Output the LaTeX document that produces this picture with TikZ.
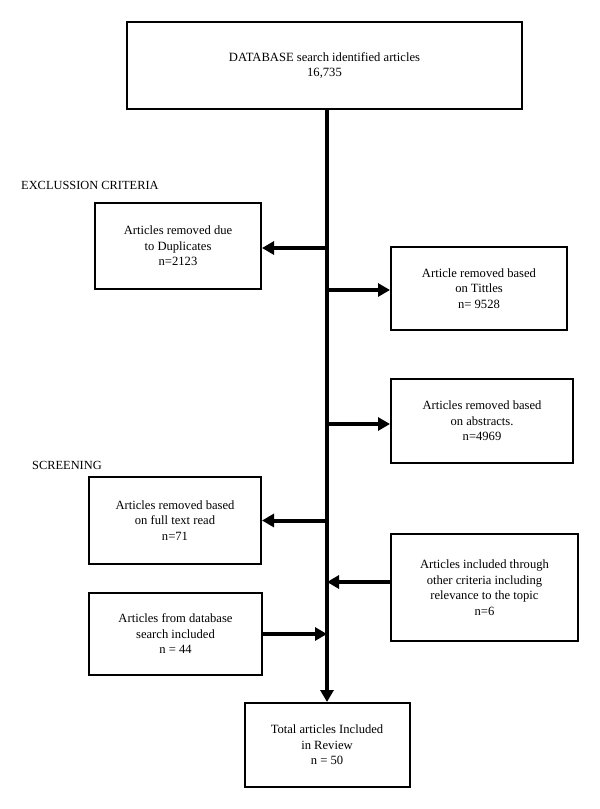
\documentclass[tikz,border=0pt]{standalone}
\usepackage{fontspec}
\setmainfont{Liberation Serif}
\usetikzlibrary{arrows.meta}
\begin{document}
\begin{tikzpicture}[x=1pt,y=-1pt,
  box/.style={draw,line width=2pt,align=center,inner sep=2pt,font=\fontsize{12.6}{15.5}\selectfont},
  arr/.style={line width=4pt,-{Triangle[length=12pt,width=13pt]}},
  lab/.style={anchor=west,inner sep=0pt,font=\fontsize{12.4}{14}\selectfont}]
\useasboundingbox (0,0) rectangle (600,809);
\node[box,minimum width=395pt,minimum height=87pt] (top) at (324.5,65.5) {DATABASE search identified articles\\16,735};
\node[box,minimum width=166pt,minimum height=86pt] (b1) at (178,246) {Articles removed due\\to Duplicates\\n=2123};
\node[box,minimum width=176pt,minimum height=83pt] (b2) at (479,288.5) {Article removed based\\on Tittles\\n= 9528};
\node[box,minimum width=182pt,minimum height=84pt] (b3) at (482,421) {Articles removed based\\on abstracts.\\n=4969};
\node[box,minimum width=172pt,minimum height=87pt] (b4) at (175,520.5) {Articles removed based\\on full text read\\n=71};
\node[box,minimum width=187pt,minimum height=107pt] (b5) at (484.5,587.5) {Articles included through\\other criteria including\\relevance to the topic\\n=6};
\node[box,minimum width=173pt,minimum height=82pt] (b6) at (175.5,634) {Articles from database\\search included\\n = 44};
\node[box,minimum width=165pt,minimum height=84pt] (bot) at (327,745) {Total articles Included\\in Review\\n = 50};
\node[lab] (ex) at (21,185) {EXCLUSSION CRITERIA};
\node[lab] (sc) at (32,465) {SCREENING};
\coordinate (s0) at (top.south -| bot.north);
\draw[arr] (s0) -- (bot.north);
\draw[arr] ([yshift=-2pt]b1.east -| bot.north) -- ([yshift=-2pt]b1.east);
\draw[arr] ([yshift=-1.5pt]b2.west -| bot.north) -- ([yshift=-1.5pt]b2.west);
\draw[arr] ([yshift=-3pt]b3.west -| bot.north) -- ([yshift=-3pt]b3.west);
\draw[arr] (b4.east -| bot.north) -- (b4.east);
\draw[arr] ([yshift=5.5pt]b5.west) -- ([yshift=5.5pt]b5.west -| bot.north);
\draw[arr] (b6.east) -- (b6.east -| bot.north);
\end{tikzpicture}
\end{document}
